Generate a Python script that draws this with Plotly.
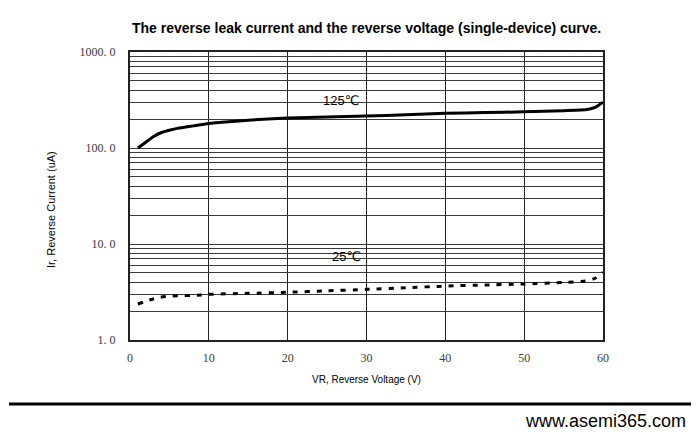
import plotly.graph_objects as go

# Data
vr_125 = [1, 2, 3, 4, 5, 6, 8, 10, 15, 20, 25, 30, 35, 40, 45, 50, 55, 58, 59, 60]
ir_125 = [100, 115, 132, 145, 153, 160, 170, 180, 195, 205, 210, 215, 222, 230, 234, 238, 245, 252, 265, 300]

vr_25 = [1, 2.5, 3.8, 5.3, 9, 10, 15, 20, 25, 30, 35, 40, 45, 50, 55, 58, 59, 60]
ir_25 = [2.37, 2.61, 2.78, 2.87, 2.94, 2.99, 3.06, 3.14, 3.25, 3.37, 3.5, 3.65, 3.74, 3.83, 3.97, 4.15, 4.4, 5.07]

y_tickvals = [m * 10 ** e for e in range(0, 3) for m in range(1, 10)] + [1000]
y_ticktext = [("%.1f" % v).replace(".", ". ") if v in (1, 10, 100, 1000) else "" for v in y_tickvals]
x_tickvals = [0, 10, 20, 30, 40, 50, 60]

fig = go.Figure()
fig.add_trace(go.Scatter(x=vr_125, y=ir_125, mode="lines",
                         line=dict(color="black", width=3, shape="spline", smoothing=0.6),
                         showlegend=False, hoverinfo="skip"))
fig.add_trace(go.Scatter(x=vr_25, y=ir_25, mode="lines",
                         line=dict(color="black", width=3, dash="5px,7px", shape="spline", smoothing=0.6),
                         showlegend=False, hoverinfo="skip"))

serif = "Liberation Serif, DejaVu Serif, serif"
sans = "Liberation Sans, Arial, DejaVu Sans, sans-serif"

# page body adds an 8px offset, so margins are reduced accordingly
fig.update_layout(
    width=700, height=447,
    margin=dict(l=122, r=105, t=44, b=115),
    paper_bgcolor="white", plot_bgcolor="white",
    xaxis=dict(range=[0, 60], tickvals=x_tickvals, ticks="", showgrid=True,
               gridcolor="#222", gridwidth=1, zeroline=False,
               showline=True, linecolor="#222", linewidth=2, mirror=True,
               tickfont=dict(family=serif, size=12, color="#3a3a3a"), ticklabelstandoff=6),
    yaxis=dict(type="log", range=[0, 3], tickvals=y_tickvals, ticktext=y_ticktext, ticks="",
               showgrid=True, gridcolor="#3a3a3a", gridwidth=1, zeroline=False,
               showline=True, linecolor="#222", linewidth=2, mirror=True,
               tickfont=dict(family=serif, size=12, color="#3a3a3a"), ticklabelstandoff=10),
    annotations=[
        dict(text="<b>The reverse leak current and the reverse voltage (single-device) curve.</b>",
             xref="paper", yref="paper", x=0.5, y=(340 - 28) / 288, xanchor="center", yanchor="middle",
             showarrow=False, font=dict(family=sans, size=14, color="black")),
        dict(text="VR, Reverse Voltage (V)", xref="paper", yref="paper", x=0.5, y=(340 - 379) / 288,
             xanchor="center", yanchor="middle", showarrow=False,
             font=dict(family=sans, size=10, color="black")),
        dict(text="Ir, Reverse Current (uA)", xref="paper", yref="paper", x=(51 - 130) / 473,
             y=(340 - 210) / 288, xanchor="center", yanchor="middle", textangle=-90, showarrow=False,
             font=dict(family=sans, size=11, color="black")),
        dict(text="125℃", x=26.8, y=2.49, xref="x", yref="y", showarrow=False,
             font=dict(family=sans, size=13, color="black")),
        dict(text="25℃", x=27.5, y=0.875, xref="x", yref="y", showarrow=False,
             font=dict(family=sans, size=13, color="black")),
        dict(text="www.asemi365.com", xref="paper", yref="paper", x=(688 - 130) / 473, y=(340 - 421) / 288,
             xanchor="right", yanchor="middle", showarrow=False,
             font=dict(family=sans, size=18, color="black")),
    ],
    shapes=[
        dict(type="line", xref="paper", yref="paper", x0=(9 - 130) / 473, x1=(691 - 130) / 473,
             y0=(340 - 404) / 288, y1=(340 - 404) / 288, line=dict(color="black", width=3)),
    ],
)

fig.write_html("out.html")
